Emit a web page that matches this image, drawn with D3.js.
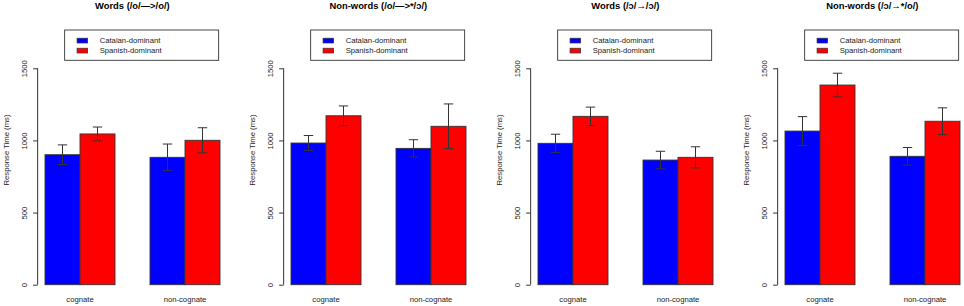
<!DOCTYPE html>
<html><head><meta charset="utf-8">
<script src="https://cdn.jsdelivr.net/npm/d3@7"></script>
<style>body{margin:0;background:#fff}svg{display:block}text{font-family:"Liberation Sans",Arial,sans-serif}</style>
</head><body>
<script>
const titles = ["Words (/o/\u2014>/o/)", "Non-words (/o/\u2014>*/\u0254/)", "Words (/\u0254/\u2192/\u0254/)", "Non-words (/\u0254/\u2192*/o/)"];
const categories = ["cognate", "non-cognate"];
const seriesNames = ["Catalan-dominant", "Spanish-dominant"];
const seriesColors = ["#0000ff", "#ff0000"];
const yTicks = [0, 500, 1000, 1500];
// means [panel][category] per series
const catalanMeans = [[901, 883], [982, 945], [980, 864], [1065, 890]];
const spanishMeans = [[1045, 1001], [1171, 1098], [1167, 883], [1384, 1133]];
// error half-widths
const catalanErr = [[68, 92], [52, 60], [63, 61], [100, 61]];
const spanishErr = [[48, 87], [68, 155], [64, 73], [82, 93]];

const W = 964, H = 306;
const svg = d3.select("body").append("svg").attr("width", W).attr("height", H);
const panelLeft = [45, 291, 538, 785];
const barW = 35;
const y = d3.scaleLinear().domain([0, 1500]).range([284.7, 68.3]);
const ink = "#333";

titles.forEach((t, p) => {
  const g = svg.append("g");
  const x = d3.scaleLinear().domain([1, 6]).range([panelLeft[p], panelLeft[p] + 5 * barW]);
  const axisX = x(0.79);
  const means = [catalanMeans[p], spanishMeans[p]];
  const errs = [catalanErr[p], spanishErr[p]];

  // title
  g.append("text").attr("x", axisX + 94.7).attr("y", 8.8).attr("text-anchor", "middle")
    .attr("font-weight", "bold").attr("font-size", 9.4).attr("fill", "#000").text(t);

  // y axis
  const yAxis = d3.axisLeft(y).tickValues(yTicks).tickSize(4.5).tickFormat(d3.format("d"));
  const ag = g.append("g").attr("transform", `translate(${axisX},0)`).call(yAxis);
  ag.attr("font-family", null).attr("font-size", null);
  ag.select(".domain").attr("d", `M0,${y(0)}V${y(1500)}`).attr("stroke", ink);
  ag.selectAll(".tick line").attr("stroke", ink);
  ag.selectAll(".tick text").attr("x", null).attr("y", null).attr("dy", null)
    .attr("font-size", 7.7).attr("fill", "#222").attr("text-anchor", "middle")
    .attr("dominant-baseline", "central")
    .attr("transform", "translate(-13.2,0) rotate(-90)");

  // y label
  g.append("text").attr("transform", `translate(${axisX - 31.5},150) rotate(-90)`)
    .attr("text-anchor", "middle").attr("dominant-baseline", "central")
    .attr("font-size", 7.7).attr("fill", "#222").text("Response Time (ms)");

  // bars
  categories.forEach((c, ci) => {
    seriesNames.forEach((s, si) => {
      const l = 1 + ci * 3 + si;
      g.append("rect").attr("x", x(l)).attr("y", y(means[si][ci]))
        .attr("width", x(l + 1) - x(l)).attr("height", y(0) - y(means[si][ci]))
        .attr("fill", seriesColors[si]).attr("stroke", ink).attr("stroke-width", 0.9);
    });
    seriesNames.forEach((s, si) => {
      const cx = x(1.5 + ci * 3 + si);
      const hi = y(means[si][ci] + errs[si][ci]), lo = y(means[si][ci] - errs[si][ci]);
      g.append("line").attr("x1", cx).attr("x2", cx).attr("y1", hi).attr("y2", lo).attr("stroke", ink).attr("stroke-width", 1);
      [hi, lo].forEach(v => g.append("line").attr("x1", cx - 4.7).attr("x2", cx + 4.7)
        .attr("y1", v).attr("y2", v).attr("stroke", ink).attr("stroke-width", 1));
    });
    g.append("text").attr("x", x(2 + ci * 3)).attr("y", 299).attr("text-anchor", "middle")
      .attr("dominant-baseline", "central").attr("font-size", 7.7).attr("fill", "#222").text(c);
  });

  // legend
  const lx = axisX + 27, ly = 30;
  g.append("rect").attr("x", lx).attr("y", ly).attr("width", 154).attr("height", 30.3)
    .attr("fill", "#fff").attr("stroke", ink).attr("stroke-width", 0.9);
  seriesNames.forEach((s, si) => {
    const cy = 40.6 + si * 10;
    g.append("rect").attr("x", lx + 12.4).attr("y", cy - 2.4).attr("width", 10.6).attr("height", 4.8)
      .attr("fill", seriesColors[si]).attr("stroke", ink).attr("stroke-width", 0.7);
    g.append("text").attr("x", lx + 35).attr("y", cy).attr("dominant-baseline", "central")
      .attr("font-size", 7.7).attr("fill", "#222").text(s);
  });
});
</script>
</body></html>
